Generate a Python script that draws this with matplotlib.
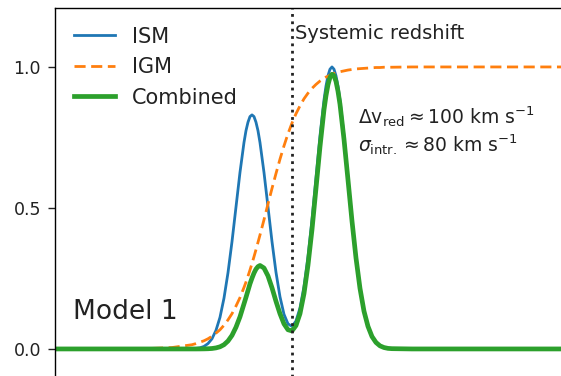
#!/usr/bin/env python3
"""Line profile: ISM emission, IGM transmission and their product (Model 1)"""
import matplotlib
matplotlib.use('Agg')
import matplotlib.pyplot as plt

# velocity offset from systemic redshift (km/s)
velocity = [-600, -400, -350, -300,
            -250, -240, -230, -220, -210, -200, -190, -180, -170, -160,
            -150, -140, -130, -120, -115, -110, -105, -100, -95, -90, -85, -80, -70, -60,
            -50, -40, -30, -20, -10, 0, 10, 20, 30, 40,
            50, 60, 70, 80, 85, 90, 95, 100, 105, 110, 115, 120, 130, 140,
            150, 160, 170, 180, 190, 200, 210, 220, 230, 240,
            250, 300, 400, 800]

# intrinsic double-peaked ISM profile
ism = [0.0, 0.0, 0.0, 0.0,
       0.001, 0.002, 0.004, 0.009, 0.019, 0.036, 0.066, 0.112, 0.180, 0.270,
       0.380, 0.503, 0.626, 0.732, 0.774, 0.804, 0.824, 0.830, 0.824, 0.804, 0.774, 0.732, 0.626, 0.504,
       0.381, 0.272, 0.185, 0.123, 0.089, 0.080, 0.099, 0.145, 0.221, 0.327,
       0.458, 0.607, 0.755, 0.883, 0.932, 0.969, 0.992, 1.000, 0.992, 0.969, 0.932, 0.883, 0.755, 0.607,
       0.458, 0.325, 0.216, 0.135, 0.080, 0.044, 0.023, 0.011, 0.005, 0.002,
       0.001, 0.0, 0.0, 0.0]

# IGM transmission
igm = [0.0, 0.001, 0.002, 0.005,
       0.015, 0.019, 0.024, 0.029, 0.036, 0.045, 0.056, 0.068, 0.084, 0.103,
       0.125, 0.152, 0.182, 0.218, 0.237, 0.258, 0.280, 0.303, 0.327, 0.352, 0.378, 0.404, 0.458, 0.514,
       0.569, 0.622, 0.673, 0.720, 0.763, 0.801, 0.834, 0.862, 0.887, 0.907,
       0.924, 0.938, 0.950, 0.960, 0.964, 0.967, 0.971, 0.974, 0.977, 0.979, 0.981, 0.983, 0.986, 0.989,
       0.991, 0.993, 0.994, 0.995, 0.996, 0.997, 0.998, 0.998, 0.999, 0.999,
       0.999, 1.0, 1.0, 1.0]

# observed (ISM x IGM)
combined = [0.0, 0.0, 0.0, 0.0,
            0.0, 0.0, 0.0001, 0.0003, 0.0007, 0.0016, 0.0037, 0.0076, 0.015, 0.028,
            0.048, 0.077, 0.114, 0.160, 0.183, 0.207, 0.231, 0.251, 0.269, 0.283, 0.292, 0.296, 0.287, 0.259,
            0.217, 0.169, 0.125, 0.089, 0.068, 0.064, 0.083, 0.125, 0.196, 0.297,
            0.423, 0.569, 0.717, 0.848, 0.898, 0.937, 0.963, 0.974, 0.969, 0.949, 0.914, 0.868, 0.744, 0.600,
            0.454, 0.323, 0.215, 0.134, 0.080, 0.044, 0.023, 0.011, 0.005, 0.002,
            0.001, 0.0, 0.0, 0.0]

y_ticks = [0.0, 0.5, 1.0]
y_ticklabels = ['0.0', '0.5', '1.0']

fig = plt.figure(figsize=(5.61, 3.76), dpi=100)
# the panel runs past the right and bottom edges of the figure
ax = fig.add_axes([0.098, -0.0638, 0.9715, 1.0425])

ax.plot(velocity, ism, color='#1f77b4', lw=2.0, label='ISM')
ax.plot(velocity, igm, color='#ff7f0e', lw=2.0, ls='--', dashes=(4, 2),
        label='IGM')
ax.plot(velocity, combined, color='#2ca02c', lw=3.4, label='Combined')
ax.axvline(0, color='#222222', ls=':', lw=2.0)

ax.set_xlim(-592.5, 770)
ax.set_ylim(-0.181, 1.209)
ax.set_yticks(y_ticks)
ax.set_yticklabels(y_ticklabels)
ax.set_xticks([])
ax.tick_params(axis='y', labelsize=12.5, length=5, width=1.0, pad=5,
               colors='#222222')

for s in ax.spines.values():
    s.set_linewidth(1.0)

ax.text(8, 1.12, 'Systemic redshift', fontsize=14, va='center', ha='left',
        color='#222222')
ax.text(-548, 0.13, 'Model 1', fontsize=19, va='center', ha='left',
        color='#222222')
ax.text(165, 0.823, r'$\Delta\mathrm{v}_{\mathrm{red}} \approx 100\ \mathrm{km\ s^{-1}}$',
        fontsize=13.5, va='center', ha='left', color='#222222')
ax.text(165, 0.723, r'$\sigma_{\mathrm{intr.}} \approx 80\ \mathrm{km\ s^{-1}}$',
        fontsize=13.5, va='center', ha='left', color='#222222')

leg = ax.legend(loc='upper left', fontsize=15, frameon=False)
for t in leg.get_texts():
    t.set_color('#222222')

fig.savefig('out.png', dpi=100)
